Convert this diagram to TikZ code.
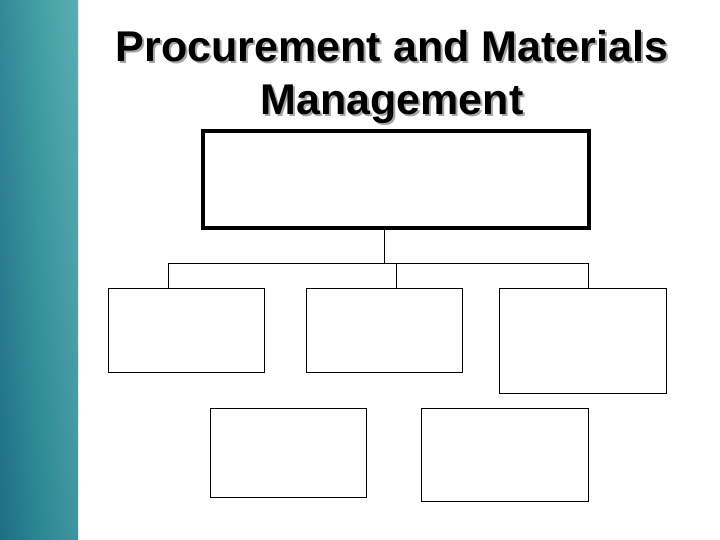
\documentclass[tikz,border=0pt]{standalone}
\usepackage{fontspec}
\setmainfont{Liberation Sans}
\definecolor{tealdark}{RGB}{30,110,135}
\definecolor{teallight}{RGB}{90,175,180}
\begin{document}
\begin{tikzpicture}[x=1pt,y=-1pt,
  box/.style={draw=black,line width=1pt,fill=white,inner sep=0pt},
  conn/.style={draw=black,line width=1pt},
  title/.style={font=\bfseries\fontsize{43}{53}\selectfont,align=center}]
\useasboundingbox (0,0) rectangle (720,540);
\fill[white] (0,0) rectangle (720,540);
\shade[left color=tealdark,right color=teallight,middle color=teal!80!white] (0,0) rectangle (78,540);
\shade[top color=teallight,bottom color=tealdark,opacity=0.4] (0,0) rectangle (78,540);
\node[title,text=gray!70] (ts) at (394,79) {Procurement and Materials\\Management};
\node[title,text=black] (t) at (392,77) {Procurement and Materials\\Management};
\node[box,line width=4pt,minimum width=386,minimum height=97] (top) at (396,179.5) {};
\node[box,minimum width=156,minimum height=84] (b1) at (186,330) {};
\node[box,minimum width=156,minimum height=84] (b2) at (384,330) {};
\node[box,minimum width=167,minimum height=105] (b3) at (582.5,340.5) {};
\node[box,minimum width=156,minimum height=89] (b4) at (288,452.5) {};
\node[box,minimum width=167,minimum height=93] (b5) at (504.5,454.5) {};
\coordinate (j) at (384,263);
\draw[conn] (top.south -| j) -- (j);
\draw[conn] (b1.north -| 168,0) -- (168,263) -- (588,263) -- (b3.north -| 588,0);
\draw[conn] (396,263) -- (b2.north -| 396,0);
\end{tikzpicture}
\end{document}
